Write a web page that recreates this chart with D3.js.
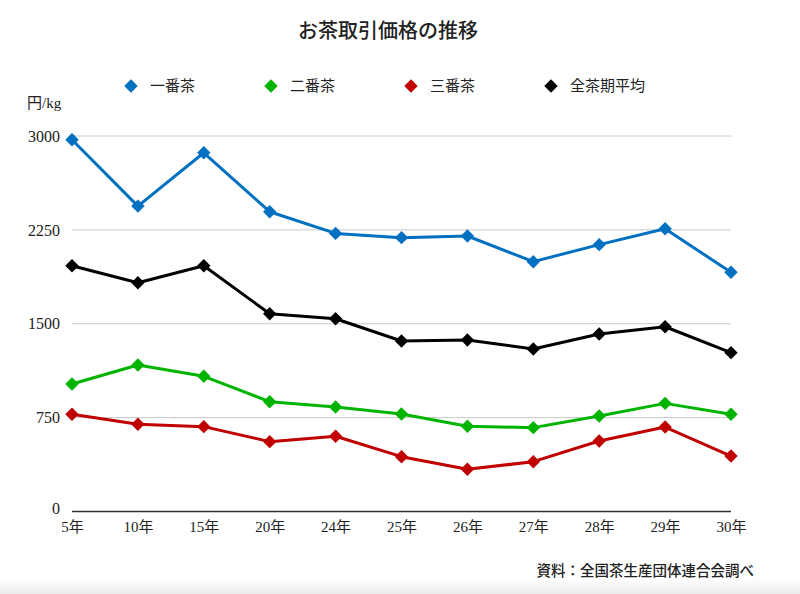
<!DOCTYPE html>
<html><head><meta charset="utf-8">
<script src="https://cdn.jsdelivr.net/npm/d3@7"></script>
<style>
body{margin:0;background:#fff;}
text{font-family:"Liberation Serif","Noto Sans CJK JP",serif;fill:#222;}
.jp{font-family:"Noto Sans CJK JP","Liberation Serif",serif;}
</style></head>
<body>
<svg id="c" width="800" height="594"></svg>
<script>
const categories = ["5年","10年","15年","20年","24年","25年","26年","27年","28年","29年","30年"];
const ichiban = [2970,2440,2866,2395,2222,2188,2201,1996,2132,2259,1911];
const niban   = [1019,1170,1080,877,835,779,681,670,763,864,777];
const sanban  = [777,697,678,558,601,438,337,398,563,675,443];
const heikin  = [1964,1828,1964,1580,1540,1362,1370,1298,1418,1476,1269];
const seriesNames = ["一番茶","二番茶","三番茶","全茶期平均"];
const seriesColors = ["#0070C0","#00B400","#C00000","#000000"];
const yTicks = [0,750,1500,2250,3000];

const svg = d3.select("#c");
const defs = svg.append("defs");
const g = defs.append("linearGradient").attr("id","bg").attr("x1",0).attr("x2",0).attr("y1",0).attr("y2",1);
g.append("stop").attr("offset","0%").attr("stop-color","#ffffff");
g.append("stop").attr("offset","100%").attr("stop-color","#ececec");
svg.append("rect").attr("x",0).attr("y",578).attr("width",800).attr("height",16).attr("fill","url(#bg)");

const x = d3.scalePoint().domain(categories).range([72,731]).padding(0);
const y = d3.scaleLinear().domain([0,3000]).range([511.5,136]);

// gridlines
svg.append("g").selectAll("line").data(yTicks.filter(d=>d>0)).join("line")
  .attr("x1",72).attr("x2",731).attr("y1",d=>y(d)).attr("y2",d=>y(d))
  .attr("stroke","#c8c8c8").attr("stroke-width",1);

// y axis labels
const yAxis = d3.axisLeft(y).tickValues(yTicks).tickSize(0).tickPadding(0).tickFormat(d=>String(d));
const ya = svg.append("g").attr("transform","translate(60,0)").call(yAxis);
ya.select(".domain").remove();
ya.selectAll("text").attr("font-size",16).attr("fill","#222")
  .style("font-family","'Liberation Serif',serif");
ya.selectAll(".tick").filter(d=>d===0).select("text").attr("dy","0.1em");

// x axis
const xAxis = d3.axisBottom(x).tickSize(0).tickPadding(10);
const xa = svg.append("g").attr("transform","translate(0,511.5)").call(xAxis);
xa.select(".domain").remove();
xa.selectAll("text").attr("font-size",15).attr("fill","#222");
svg.append("line").attr("x1",72).attr("x2",731).attr("y1",511.5).attr("y2",511.5)
  .attr("stroke","#333").attr("stroke-width",1.5);

const allSeries = [ichiban,niban,sanban,heikin];
const line = d3.line().x((d,i)=>x(categories[i])).y(d=>y(d));
const diamond = d3.symbol().type(d3.symbolSquare).size(90);

// draw order: average, blue, green, red
[3,0,1,2].forEach(si=>{
  const data = allSeries[si];
  const col = seriesColors[si];
  svg.append("path").datum(data).attr("d",line).attr("fill","none")
    .attr("stroke",col).attr("stroke-width",3).attr("stroke-linejoin","round");
  svg.append("g").selectAll("path").data(data).join("path")
    .attr("d",diamond)
    .attr("transform",(d,i)=>`translate(${x(categories[i])},${y(d)}) rotate(45)`)
    .attr("fill",col);
});

// legend
const legX = [131,271,411,551];
const leg = svg.append("g");
seriesNames.forEach((n,i)=>{
  leg.append("path").attr("d",d3.symbol().type(d3.symbolSquare).size(90)())
    .attr("transform",`translate(${legX[i]},86) rotate(45)`).attr("fill",seriesColors[i]);
  leg.append("text").attr("class","jp").attr("x",legX[i]+19).attr("y",86).attr("dy","0.35em")
    .attr("font-size",15).attr("fill","#333").text(n);
});

// title
svg.append("text").attr("class","jp").attr("x",388).attr("y",31).attr("dy","0.35em")
  .attr("text-anchor","middle").attr("font-size",20).attr("font-weight",500).attr("fill","#111")
  .text("お茶取引価格の推移");

// unit
svg.append("text").attr("x",27).attr("y",103).attr("dy","0.35em").attr("font-size",15)
  .attr("fill","#222").text("円/kg");

// source
svg.append("text").attr("class","jp").attr("x",754).attr("y",571).attr("dy","0.35em")
  .attr("text-anchor","end").attr("font-size",14.5).attr("font-weight",500).attr("fill","#222")
  .text("資料：全国茶生産団体連合会調べ");
</script>
</body></html>
